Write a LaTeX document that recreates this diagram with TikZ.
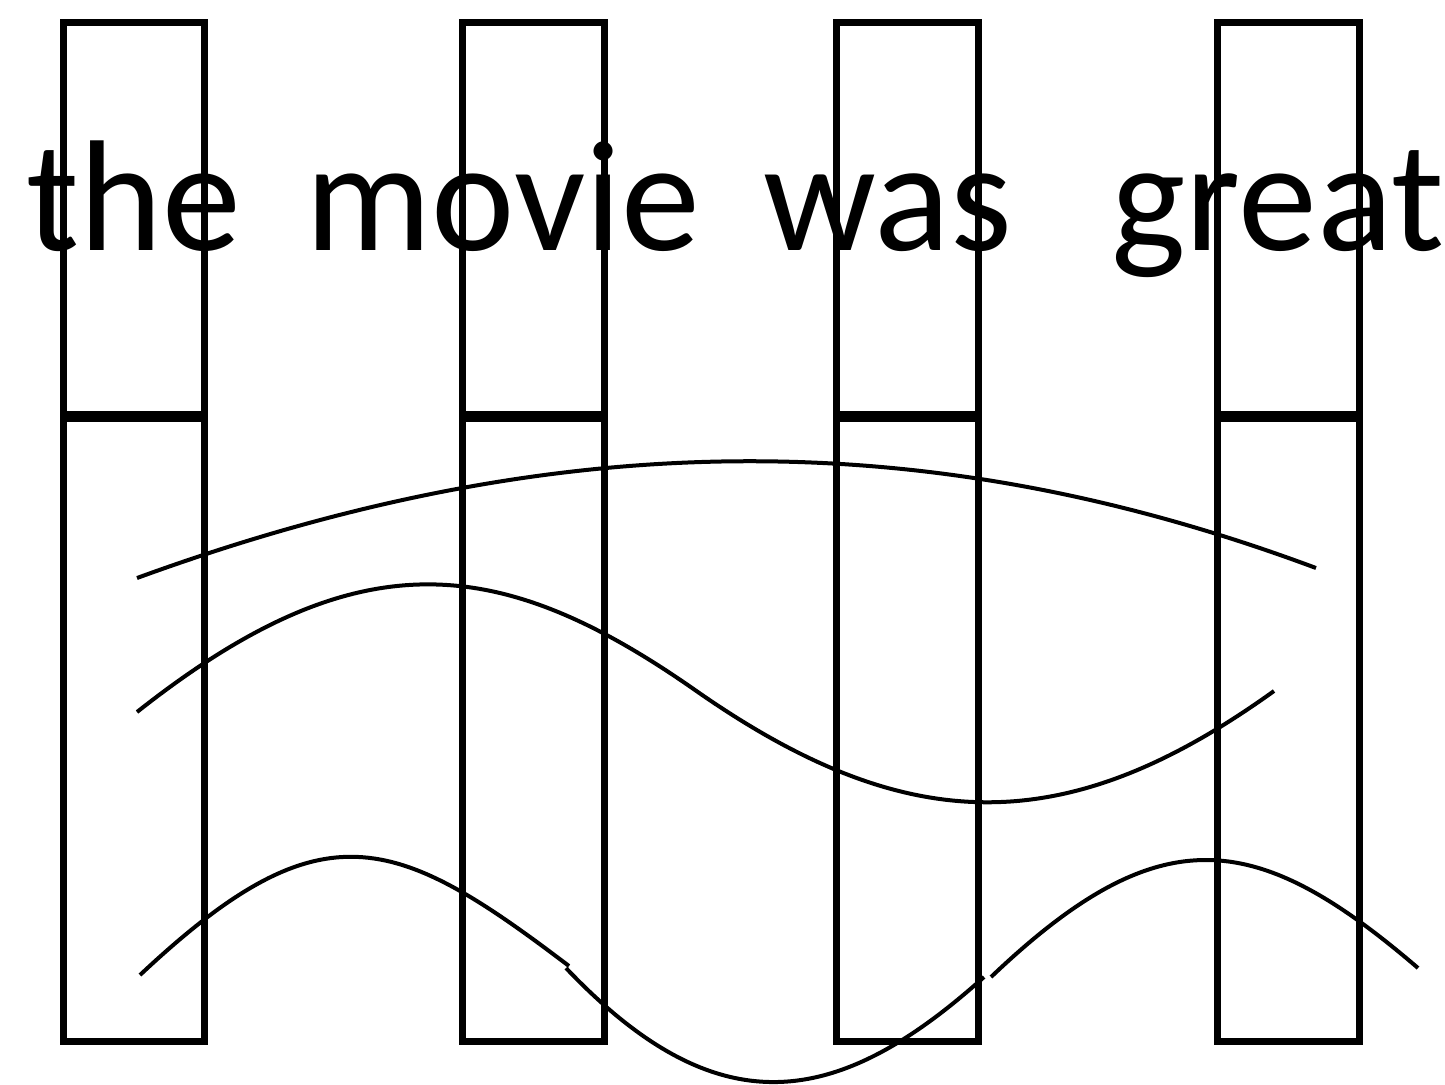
\documentclass[tikz,border=0pt]{standalone}
\usepackage{fontspec}
\setmainfont{Carlito}
\begin{document}
\begin{tikzpicture}[x=0.5pt,y=-0.5pt,
  cell/.style={draw=black,line width=3.5pt,line join=miter},
  wave/.style={draw=black,line width=2pt},
  word/.style={anchor=base,inner sep=0pt,font=\fontsize{79pt}{90pt}\selectfont}]
\useasboundingbox (0,0) rectangle (1445,1084);
% columns
\foreach \l/\r in {63/204, 462/604.5, 836.5/978, 1217/1359}{
  \draw[cell] (\l,22.5) rectangle (\r,414);
  \draw[cell] (\l,418) rectangle (\r,1041);
}
% words
\node[word] (w1) at (134,250) {the};
\node[word] (w2) at (503,250) {movie};
\node[word] (w3) at (887.5,250) {was};
\node[word] (w4) at (1278,250) {great};
% curve 1
\draw[wave] (137,578) .. controls (559,424) and (930,424) .. (1316,568);
% curve 2
\draw[wave] (137,712) .. controls (357,538) and (499,553) .. (695,690)
  .. controls (905,837) and (1064,842) .. (1274,691);
% curve 3 (three pieces)
\draw[wave] (140,975) .. controls (321,805) and (394,833) .. (569,966);
\draw[wave] (566,968) .. controls (718,1128) and (837,1109) .. (984,977);
\draw[wave] (991,977) .. controls (1160,816) and (1256,829) .. (1418,968);
\end{tikzpicture}
\end{document}
